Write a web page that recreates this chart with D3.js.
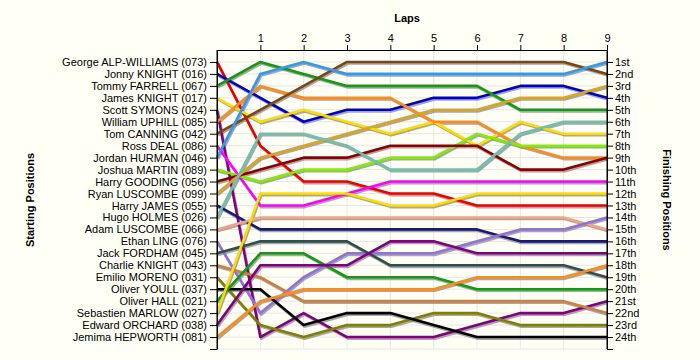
<!DOCTYPE html>
<html><head><meta charset="utf-8">
<script src="https://cdn.jsdelivr.net/npm/d3@7"></script>
<style>
html,body{margin:0;padding:0;background:#fffff6;}
svg{display:block;font-family:"Liberation Sans",Arial,sans-serif;}
</style></head>
<body>
<svg id="c" width="700" height="360"></svg>
<script>
const laps = [0,1,2,3,4,5,6,7,8,9];
const lapTicks = [1,2,3,4,5,6,7,8,9];
const drivers = [
 "George ALP-WILLIAMS (073)","Jonny KNIGHT (016)","Tommy FARRELL (067)","James KNIGHT (017)",
 "Scott SYMONS (024)","William UPHILL (085)","Tom CANNING (042)","Ross DEAL (086)",
 "Jordan HURMAN (046)","Joshua MARTIN (089)","Harry GOODING (056)","Ryan LUSCOMBE (099)",
 "Harry JAMES (055)","Hugo HOLMES (026)","Adam LUSCOMBE (066)","Ethan LING (076)",
 "Jack FORDHAM (045)","Charlie KNIGHT (043)","Emilio MORENO (031)","Oliver YOULL (037)",
 "Oliver HALL (021)","Sebastien MARLOW (027)","Edward ORCHARD (038)","Jemima HEPWORTH (081)"];
const finishLabels = ["1st","2nd","3rd","4th","5th","6th","7th","8th","9th","10th","11th","12th",
 "13th","14th","15th","16th","17th","18th","19th","20th","21st","22nd","23rd","24th"];
const colors = ["#ee0000","#0000cc","#129a12","#ffdd00","#800080","#ff8c1a","#7a4712","#ff00ff",
 "#3399ee","#80ee00","#8b0000","#daa520","#191970","#70c0ae","#f4a386","#9370db",
 "#2f4f4f","#cd7f3f","#808000","#000000","#129a12","#ffdd00","#800080","#ff8c1a"];
const positions = [
 [1,8,11,11,12,12,13,13,13,13],
 [2,4,6,5,5,4,4,3,3,4],
 [3,1,2,3,3,3,3,5,5,5],
 [4,6,5,6,7,6,8,6,7,7],
 [5,24,22,24,24,24,23,22,22,21],
 [6,3,4,4,4,6,6,8,9,9],
 [7,5,3,1,1,1,1,1,1,2],
 [8,13,13,12,11,11,11,11,11,11],
 [9,2,1,2,2,2,2,2,2,1],
 [10,11,10,10,9,9,7,8,8,8],
 [11,10,9,9,8,8,8,10,10,9],
 [12,9,8,7,6,5,5,4,4,3],
 [13,15,15,15,15,15,15,16,16,16],
 [14,7,7,8,10,10,10,7,6,6],
 [15,14,14,14,14,14,14,14,14,15],
 [16,22,19,17,17,17,16,15,15,14],
 [17,16,16,16,18,18,18,18,18,19],
 [18,19,21,21,21,21,21,21,21,22],
 [19,23,24,23,23,22,22,23,23,23],
 [20,20,23,22,22,23,24,24,24,24],
 [21,17,17,19,19,19,20,20,20,20],
 [22,12,12,12,13,13,12,12,12,12],
 [23,18,18,18,16,16,17,17,17,17],
 [24,21,20,20,20,20,19,19,19,18]];

const svg = d3.select("#c");
const x = d3.scaleLinear().domain([0,9]).range([217,607]);
const y = d3.scaleLinear().domain([0,25]).range([50,349]);
const posTicks = d3.range(1,25);

// grid
const g = svg.append("g");
g.selectAll(".hg").data(d3.range(1,26)).join("line")
 .attr("x1",x(0)).attr("x2",x(9)).attr("y1",d=>y(d)).attr("y2",d=>y(d))
 .attr("stroke","#e6e6e6").attr("stroke-width",1);
g.selectAll(".vg").data(d3.range(1,9)).join("line")
 .attr("x1",d=>x(d)).attr("x2",d=>x(d)).attr("y1",y(0)).attr("y2",y(25))
 .attr("stroke","#e6e6e6").attr("stroke-width",1);

// lines
const line = d3.line().x((d,i)=>x(laps[i])).y(d=>y(d));
const shadow = svg.append("g").attr("transform","translate(1,1.6)");
shadow.selectAll("path").data(positions).join("path")
 .attr("d",line).attr("fill","none").attr("stroke","#8a8a8a").attr("stroke-opacity",0.75)
 .attr("stroke-width",2.6).attr("stroke-linejoin","round");
svg.append("g").selectAll("path").data(positions).join("path")
 .attr("d",line).attr("fill","none").attr("stroke",(d,i)=>colors[i])
 .attr("stroke-width",2.6).attr("stroke-linejoin","round");

// axes
const fs = "11px";
const topAxis = svg.append("g").attr("transform",`translate(0,${y(0)})`)
 .call(d3.axisTop(x).tickValues(lapTicks).tickSize(5).tickSizeOuter(0).tickPadding(3));
topAxis.selectAll("text").style("font-size",fs).attr("fill","#000");

const leftAxis = svg.append("g").attr("transform",`translate(${x(0)},0)`)
 .call(d3.axisLeft(y).tickValues(posTicks.concat([25])).tickSize(7).tickSizeOuter(0).tickPadding(3)
   .tickFormat(d=>d<=24?drivers[d-1]:""));
leftAxis.selectAll("text").style("font-size",fs).attr("fill","#000");
leftAxis.append("line").attr("x1",0).attr("x2",0).attr("y1",y(0)).attr("y2",y(25)).attr("stroke","#000");

const rightAxis = svg.append("g").attr("transform",`translate(${x(9)},0)`)
 .call(d3.axisRight(y).tickValues(posTicks.concat([25])).tickSize(6).tickSizeOuter(0).tickPadding(2)
   .tickFormat(d=>d<=24?finishLabels[d-1]:""));
rightAxis.selectAll("text").style("font-size",fs).attr("fill","#000");
rightAxis.append("line").attr("x1",0).attr("x2",0).attr("y1",y(0)).attr("y2",y(25)).attr("stroke","#000");
svg.selectAll(".domain").attr("stroke","#000");

// titles
svg.append("text").attr("x",407).attr("y",22).attr("text-anchor","middle")
 .style("font-size","11px").style("font-weight","bold").text("Laps");
svg.append("text").attr("transform","translate(34,200) rotate(-90)").attr("text-anchor","middle")
 .style("font-size","11px").style("font-weight","bold").text("Starting Positions");
svg.append("text").attr("transform","translate(663,200) rotate(90)").attr("text-anchor","middle")
 .style("font-size","11px").style("font-weight","bold").text("Finishing Positions");
</script>
</body></html>
